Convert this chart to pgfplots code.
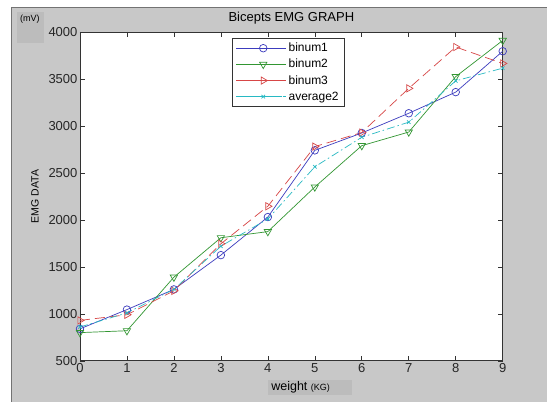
\documentclass[border=0pt]{standalone}
\usepackage{pgfplots}
\pgfplotsset{compat=1.18}
\usepackage{fontspec}
\setmainfont{Liberation Sans}
\definecolor{bgray}{RGB}{200,200,200}
\definecolor{mvgray}{RGB}{188,188,188}
\definecolor{mblue}{RGB}{60,60,190}
\definecolor{mgreen}{RGB}{50,150,50}
\definecolor{mred}{RGB}{215,70,70}
\definecolor{mcyan}{RGB}{40,185,195}
\begin{document}
\begin{tikzpicture}
\fill[white] (0pt,0pt) rectangle (547pt,402pt);
\fill[bgray] (11pt,0pt) rectangle (547pt,395pt);
\draw[black!55, line width=0.6pt] (11pt,0pt) -- (11pt,395pt) -- (547pt,395pt);
\fill[mvgray] (17pt,359pt) rectangle (44pt,390pt);
\fill[mvgray] (268pt,7pt) rectangle (352pt,22pt);
\node[font=\fontsize{9}{10}\selectfont] at (30pt,383pt) {(mV)};
\begin{axis}[
  at={(80pt,41pt)}, anchor=south west,
  scale only axis, width=423pt, height=329pt,
  xmin=0, xmax=9, ymin=500, ymax=4000,
  xtick={0,...,9}, ytick={500,1000,...,4000},
  tick align=inside, major tick length=5pt,
  axis background/.style={fill=white},
  axis line style={black!80, line width=0.7pt},
  tick style={black!80, line width=0.6pt},
  tick label style={font=\fontsize{13}{14}\selectfont, text=black!85},
  xticklabel style={yshift=1pt},
  yticklabel style={xshift=1pt},
  /pgf/number format/assume math mode=true,
  /pgf/number format/1000 sep={},
  title={Bicepts EMG GRAPH},
  title style={font=\fontsize{13}{14}\selectfont, yshift=-2pt},
  xlabel={weight {\fontsize{9}{10}\selectfont(KG)}},
  xlabel style={font=\fontsize{12.5}{13}\selectfont, at={(rel axis cs:0.522,0)}, anchor=center, yshift=-26pt},
  ylabel={EMG DATA},
  ylabel style={font=\fontsize{10.5}{12}\selectfont, yshift=3pt},
  legend style={at={(0.359,0.982)}, anchor=north west, draw=black!80,
    font=\fontsize{12}{13}\selectfont, row sep=2pt, inner xsep=4pt, inner ysep=3pt},
  legend cell align=left,
  legend image code/.code={
    \path (0pt,0pt) -- (50pt,0pt);
    \draw[mark repeat=2,mark phase=2] plot coordinates {(8pt,0pt) (27pt,0pt) (46pt,0pt)};},
  every axis plot/.append style={line width=0.7pt},
]
\addplot[mblue, mark=o, mark size=3.8pt] coordinates {
  (0,840) (1,1045) (2,1260) (3,1625) (4,2030) (5,2740) (6,2925) (7,3135) (8,3360) (9,3795)};
\addlegendentry{binum1}
\addplot[mgreen, mark=triangle, mark size=4.2pt, mark options={rotate=180, solid}] coordinates {
  (0,800) (1,820) (2,1390) (3,1810) (4,1875) (5,2350) (6,2790) (7,2935) (8,3525) (9,3910)};
\addlegendentry{binum2}
\addplot[mred, dash pattern=on 10pt off 5pt, mark=triangle, mark size=4.2pt, mark options={rotate=-90, solid}] coordinates {
  (0,930) (1,990) (2,1245) (3,1745) (4,2145) (5,2780) (6,2930) (7,3400) (8,3840) (9,3665)};
\addlegendentry{binum3}
\addplot[mcyan, dash pattern=on 8pt off 3pt on 1.5pt off 3pt, mark=x, mark size=2.5pt, mark options={solid}] coordinates {
  (0,860) (1,1010) (2,1260) (3,1720) (4,2010) (5,2565) (6,2880) (7,3040) (8,3480) (9,3615)};
\addlegendentry{average2}
\end{axis}
\end{tikzpicture}
\end{document}
